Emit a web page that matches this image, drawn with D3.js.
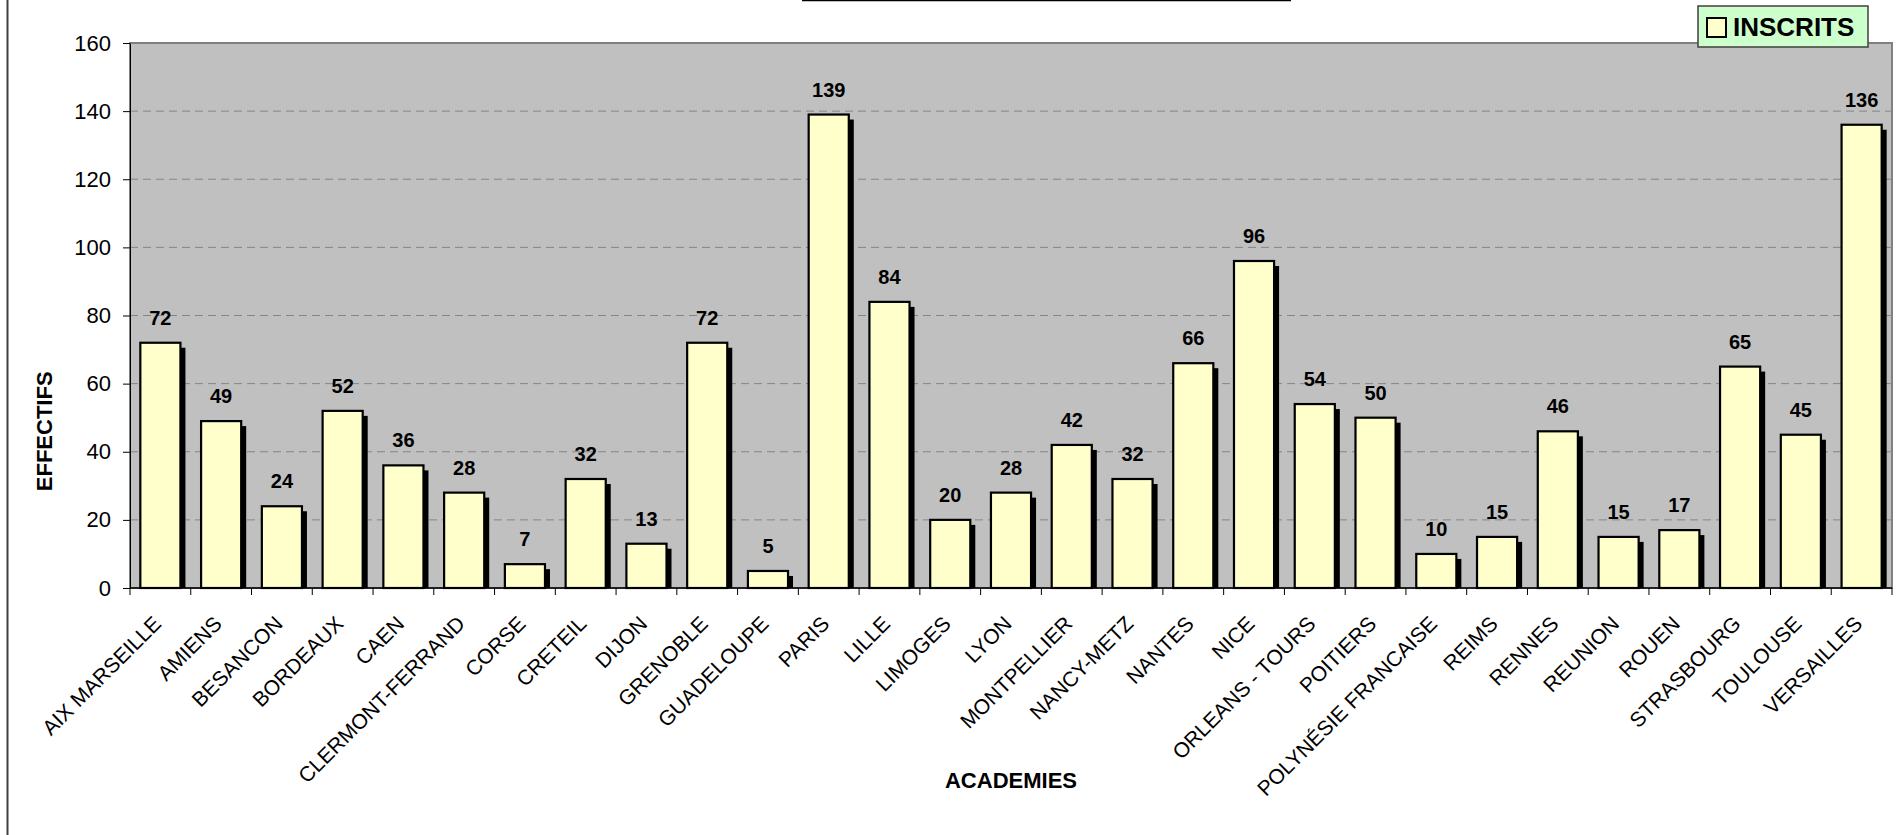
<!DOCTYPE html>
<html>
<head>
<meta charset="utf-8">
<script src="https://cdn.jsdelivr.net/npm/d3@7"></script>
<style>
  body { margin: 0; background: #fff; }
  svg { display: block; font-family: "Liberation Sans", Arial, sans-serif; }
</style>
</head>
<body>
<div id="chart"></div>
<script>
// academies on the x axis
var academies = [
  'AIX MARSEILLE', 'AMIENS', 'BESANCON', 'BORDEAUX', 'CAEN', 'CLERMONT-FERRAND',
  'CORSE', 'CRETEIL', 'DIJON', 'GRENOBLE', 'GUADELOUPE', 'PARIS', 'LILLE',
  'LIMOGES', 'LYON', 'MONTPELLIER', 'NANCY-METZ', 'NANTES', 'NICE',
  'ORLEANS - TOURS', 'POITIERS', 'POLYNÉSIE FRANCAISE', 'REIMS', 'RENNES',
  'REUNION', 'ROUEN', 'STRASBOURG', 'TOULOUSE', 'VERSAILLES'
]

// effectifs inscrits
var inscrits = [
  72, 49, 24, 52, 36, 28, 7, 32, 13, 72, 5, 139, 84, 20, 28, 42, 32, 66, 96,
  54, 50, 10, 15, 46, 15, 17, 65, 45, 136
]

var yTicks = [0, 20, 40, 60, 80, 100, 120, 140, 160]
var seriesName = 'INSCRITS'

var width = 1896
var height = 835
var margin = { top: 43, right: 4, bottom: 247, left: 130 }

var data = academies.map((name, i) => ({ name: name, value: inscrits[i] }))

var svg = d3.select('#chart').append('svg')
  .attr('width', width)
  .attr('height', height)

// outer chart border (only the left edge is in frame)
svg.append('line')
  .attr('x1', 7.5).attr('x2', 7.5)
  .attr('y1', 0).attr('y2', height)
  .attr('stroke', '#404040')
  .attr('stroke-width', 2)

// underline of the cropped title
svg.append('line')
  .attr('x1', 802).attr('x2', 1291)
  .attr('y1', 0.5).attr('y2', 0.5)
  .attr('stroke', '#000')
  .attr('stroke-width', 1.5)

var x = d3.scaleBand()
  .domain(academies)
  .range([margin.left, width - margin.right])
  .paddingInner(0.34)
  .paddingOuter(0.17)

var y = d3.scaleLinear()
  .domain([0, 160])
  .range([height - margin.bottom, margin.top])

// plot area
svg.append('rect')
  .attr('x', x.range()[0])
  .attr('y', y(160))
  .attr('width', x.range()[1] - x.range()[0])
  .attr('height', y(0) - y(160))
  .attr('fill', '#c0c0c0')
  .attr('stroke', '#808080')
  .attr('stroke-width', 2)

// dashed gridlines
svg.append('g')
  .selectAll('line')
  .data(yTicks.filter(t => t > 0 && t < 160))
  .enter()
  .append('line')
  .attr('x1', x.range()[0])
  .attr('x2', x.range()[1])
  .attr('y1', d => y(d))
  .attr('y2', d => y(d))
  .attr('stroke', '#858585')
  .attr('stroke-width', 1)
  .attr('stroke-dasharray', '8,5')

// shadows
svg.append('g')
  .attr('fill', '#000')
  .selectAll('rect')
  .data(data)
  .enter()
  .append('rect')
  .attr('x', d => x(d.name) + 5)
  .attr('y', d => y(d.value) + 5)
  .attr('width', x.bandwidth())
  .attr('height', d => Math.max(0, y(0) - y(d.value) - 5))

// bars
svg.append('g')
  .attr('fill', '#ffffcc')
  .attr('stroke', '#000')
  .attr('stroke-width', 2.2)
  .selectAll('rect')
  .data(data)
  .enter()
  .append('rect')
  .attr('x', d => x(d.name))
  .attr('y', d => y(d.value))
  .attr('width', x.bandwidth())
  .attr('height', d => y(0) - y(d.value))

// value labels
svg.append('g')
  .attr('text-anchor', 'middle')
  .style('font', 'bold 20px "Liberation Sans", Arial, sans-serif')
  .selectAll('text')
  .data(data)
  .enter()
  .append('text')
  .attr('x', d => x(d.name) + x.bandwidth() / 2)
  .attr('y', d => y(d.value) - 18)
  .text(d => d.value)

// y axis
var yAxis = svg.append('g')
  .attr('transform', `translate(${x.range()[0]},0)`)
  .call(d3.axisLeft(y).tickValues(yTicks).tickSize(7).tickPadding(12).tickSizeOuter(0))
yAxis.select('.domain').attr('stroke', '#000')
yAxis.selectAll('text')
  .attr('fill', '#000')
  .style('font', '22px "Liberation Sans", Arial, sans-serif')

// x axis line and ticks between categories
var xBase = y(0)
svg.append('line')
  .attr('x1', x.range()[0]).attr('x2', x.range()[1])
  .attr('y1', xBase).attr('y2', xBase)
  .attr('stroke', '#000')
  .attr('stroke-width', 1.5)

svg.append('g')
  .selectAll('line')
  .data(d3.range(academies.length + 1))
  .enter()
  .append('line')
  .attr('x1', i => x.range()[0] + i * x.step())
  .attr('x2', i => x.range()[0] + i * x.step())
  .attr('y1', xBase)
  .attr('y2', xBase + 7)
  .attr('stroke', '#000')

// rotated category labels
svg.append('g')
  .attr('text-anchor', 'end')
  .style('font', '21px "Liberation Sans", Arial, sans-serif')
  .selectAll('text')
  .data(academies)
  .enter()
  .append('text')
  .attr('transform', d => `translate(${x(d) + x.bandwidth() / 2 + 2},${xBase + 37}) rotate(-45)`)
  .text(d => d)

// axis titles
svg.append('text')
  .attr('transform', `translate(52,${y(46)}) rotate(-90)`)
  .attr('text-anchor', 'middle')
  .style('font', 'bold 22px "Liberation Sans", Arial, sans-serif')
  .text('EFFECTIFS')

svg.append('text')
  .attr('x', (x.range()[0] + x.range()[1]) / 2)
  .attr('y', 788)
  .attr('text-anchor', 'middle')
  .style('font', 'bold 22px "Liberation Sans", Arial, sans-serif')
  .text('ACADEMIES')

// legend
var legend = svg.append('g').attr('transform', 'translate(1698,6)')
legend.append('rect')
  .attr('width', 170)
  .attr('height', 41)
  .attr('fill', '#ccffcc')
  .attr('stroke', '#404040')
  .attr('stroke-width', 1.5)
legend.append('rect')
  .attr('x', 9)
  .attr('y', 12)
  .attr('width', 19)
  .attr('height', 19)
  .attr('fill', '#ffffcc')
  .attr('stroke', '#000')
  .attr('stroke-width', 2)
legend.append('text')
  .attr('x', 35)
  .attr('y', 30)
  .style('font', 'bold 26px "Liberation Sans", Arial, sans-serif')
  .text(seriesName)
</script>
</body>
</html>
